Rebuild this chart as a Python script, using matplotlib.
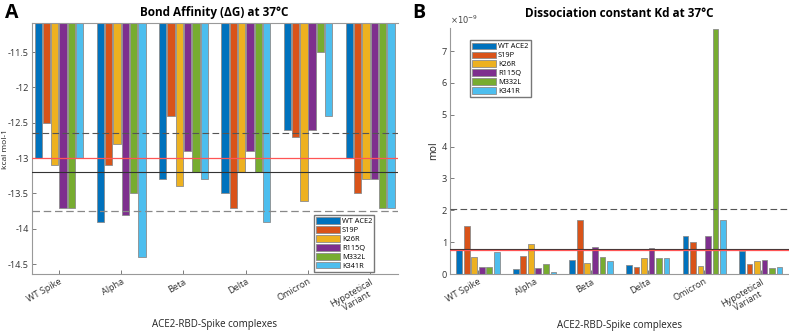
import numpy as np
import matplotlib
matplotlib.use("Agg")
import matplotlib.pyplot as plt

plt.rcParams['font.family'] = ['Open Sans', 'DejaVu Sans']

complexes = ["WT Spike", "Alpha", "Beta", "Delta", "Omicron", "Hypotetical\nVariant"]
receptors = ["WT ACE2", "S19P", "K26R", "R115Q", "M332L", "K341R"]
colors = ["#0072BD", "#D95319", "#EDB120", "#7E2F8E", "#77AC30", "#4DBEEE"]

# bond affinity dG, kcal mol-1 (rows = receptor, cols = complex)
dg = [
    [-13.0, -13.9, -13.3, -13.5, -12.6, -13.0],   # WT ACE2
    [-12.5, -13.1, -12.4, -13.7, -12.7, -13.5],   # S19P
    [-13.1, -12.8, -13.4, -13.2, -13.6, -13.3],   # K26R
    [-13.7, -13.8, -12.9, -12.9, -12.6, -13.3],   # R115Q
    [-13.7, -13.5, -13.2, -13.2, -11.5, -13.7],   # M332L
    [-13.0, -14.4, -13.3, -13.9, -12.4, -13.7],   # K341R
]
dg_lines = [-12.65, -13.0, -13.2, -13.75]

# dissociation constant Kd, x1e-9 mol
kd = [
    [0.75, 0.17, 0.43, 0.29, 1.20, 0.72],
    [1.50, 0.57, 1.70, 0.23, 1.00, 0.33],
    [0.55, 0.93, 0.36, 0.50, 0.26, 0.42],
    [0.23, 0.19, 0.86, 0.83, 1.20, 0.43],
    [0.22, 0.33, 0.53, 0.52, 7.70, 0.20],
    [0.68, 0.07, 0.40, 0.52, 1.70, 0.22],
]
kd_lines = [2.05, 0.80, 0.75]

x = np.arange(1, len(complexes) + 1)
slot = 0.8 / len(receptors)

fig = plt.figure(figsize=(7.89, 3.31), dpi=100)
axA = fig.add_axes([0.040, 0.172, 0.464, 0.758])
axB = fig.add_axes([0.570, 0.172, 0.430, 0.743])


def style_axes(ax, label_y, xlim):
    for s in ["left", "bottom", "top", "right"]:
        ax.spines[s].set_color("#999999")
        ax.spines[s].set_linewidth(0.8)
    ax.spines["right"].set_visible(False)
    ax.tick_params(direction="in", length=3, width=0.6, color="#666666",
                   labelsize=6.6, labelcolor="#333333", pad=2)
    ax.set_xticks(x)
    ax.set_xticklabels(complexes, rotation=30, ha="right", rotation_mode="anchor",
                       multialignment="center")
    ax.set_xlim(*xlim)
    ax.set_xlabel("ACE2-RBD-Spike complexes", fontsize=7, color="#222222")
    ax.xaxis.set_label_coords(0.5, label_y)


# panel A
for i, (vals, c) in enumerate(zip(dg, colors)):
    off = (i - 2.5) * slot
    axA.bar(x + off, vals, width=slot * 0.88, color=c, edgecolor="#8c8c8c",
            linewidth=0.6, label=receptors[i], zorder=2)
axA.axhline(dg_lines[0], color="#555555", ls=(0, (6, 3)), lw=0.8, zorder=3)
axA.axhline(dg_lines[1], color="#ff5555", lw=0.9, zorder=3)
axA.axhline(dg_lines[2], color="#333333", lw=0.8, zorder=3)
axA.axhline(dg_lines[3], color="#888888", ls=(0, (6, 3)), lw=0.9, zorder=3)
axA.set_ylim(-14.64, -11.09)
axA.set_yticks([-11.5, -12, -12.5, -13, -13.5, -14, -14.5])
axA.set_yticklabels(["-11.5", "-12", "-12.5", "-13", "-13.5", "-14", "-14.5"])
style_axes(axA, -0.18, (0.56, 6.44))
axA.set_ylabel("kcal mol-1", fontsize=6, color="#222222")
axA.yaxis.set_label_coords(-0.062, 0.5)
axA.set_title("Bond Affinity (ΔG) at 37°C", fontsize=8.5, fontweight="bold", pad=5)
axA.legend(loc="lower left", bbox_to_anchor=(0.765, 0.0), fontsize=5.3,
           frameon=True, fancybox=False, edgecolor="#777777", framealpha=1,
           handlelength=3.2, handleheight=1.0, labelspacing=0.15,
           borderpad=0.3, handletextpad=0.3, borderaxespad=0.3)

# panel B
for i, (vals, c) in enumerate(zip(kd, colors)):
    off = (i - 2.5) * slot
    axB.bar(x + off, vals, width=slot * 0.75, color=c, edgecolor="#8c8c8c",
            linewidth=0.6, label=receptors[i], zorder=2)
axB.axhline(kd_lines[0], color="#555555", ls=(0, (6, 3)), lw=0.8, zorder=3)
axB.axhline(kd_lines[1], color="#333333", lw=0.8, zorder=3)
axB.axhline(kd_lines[2], color="#ff5555", lw=0.9, zorder=3)
axB.set_ylim(0, 7.72)
axB.set_yticks(range(0, 8))
style_axes(axB, -0.187, (0.5, 6.5))
axB.spines["top"].set_visible(False)
axB.set_ylabel("mol", fontsize=7.5, color="#222222")
axB.yaxis.set_label_coords(-0.032, 0.5)
axB.set_title("Dissociation constant Kd at 37°C", fontsize=8.5, fontweight="bold", pad=8)
axB.text(0.0, 1.01, r"$\times10^{-9}$", transform=axB.transAxes, fontsize=6,
         color="#444444", ha="left", va="bottom")
axB.legend(loc="upper left", bbox_to_anchor=(0.06, 0.95), fontsize=5.3,
           frameon=True, fancybox=False, edgecolor="#777777", framealpha=1,
           handlelength=3.2, handleheight=1.0, labelspacing=0.15,
           borderpad=0.3, handletextpad=0.3, borderaxespad=0.0)

fig.text(0.006, 0.99, "A", fontsize=14, fontweight="bold", va="top", ha="left")
fig.text(0.523, 0.99, "B", fontsize=14, fontweight="bold", va="top", ha="left")

fig.savefig("out.png", dpi=100)
